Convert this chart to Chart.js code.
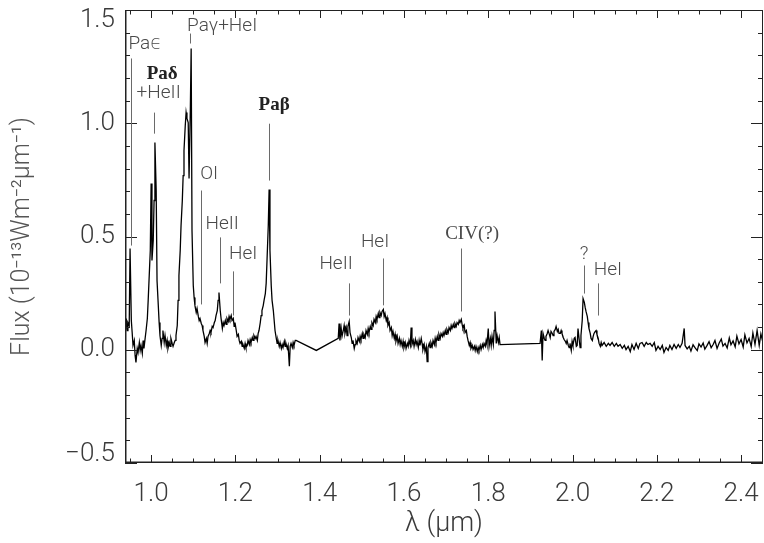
<!DOCTYPE html>
<html>
<head>
<meta charset="utf-8">
<script src="https://cdn.jsdelivr.net/npm/chart.js@4.4.1/dist/chart.umd.min.js"></script>
<style>
  html, body { margin: 0; padding: 0; background: #fff; }
</style>
</head>
<body>
<canvas id="spec" width="764" height="543"></canvas>
<script>
// --- Spectrum: wavelength in micron, flux in 1e-13 W m^-2 um^-1 ---
const wave = [
  0.938,0.941,0.943,0.945,0.948,0.950,0.953,0.955,0.957,0.960,0.962,0.964,0.967,0.969,0.972,0.974,0.976,0.979,0.981,0.983,
  0.986,0.988,0.991,0.993,0.995,0.998,1.000,1.002,1.005,1.007,1.009,1.012,1.014,1.017,1.019,1.021,1.024,1.026,1.028,1.031,
  1.033,1.036,1.038,1.040,1.043,1.045,1.047,1.050,1.052,1.055,1.057,1.059,1.062,1.064,1.066,1.069,1.071,1.074,1.076,1.078,
  1.081,1.083,1.085,1.088,1.090,1.093,1.095,1.097,1.100,1.102,1.104,1.107,1.109,1.112,1.114,1.116,1.119,1.121,1.123,1.126,
  1.128,1.131,1.133,1.135,1.138,1.140,1.142,1.145,1.147,1.150,1.152,1.154,1.157,1.159,1.161,1.164,1.166,1.169,1.171,1.173,
  1.176,1.178,1.180,1.183,1.185,1.187,1.190,1.192,1.195,1.197,1.199,1.202,1.204,1.207,1.209,1.211,1.214,1.216,1.218,1.221,
  1.223,1.225,1.228,1.230,1.233,1.235,1.237,1.240,1.242,1.244,1.247,1.249,1.252,1.254,1.256,1.259,1.261,1.263,1.266,1.268,
  1.271,1.273,1.275,1.278,1.280,1.282,1.285,1.287,1.290,1.292,1.294,1.297,1.299,1.301,1.304,1.306,1.309,1.311,1.313,1.316,
  1.318,1.320,1.323,1.325,1.328,1.330,1.332,1.335,1.337,1.339,1.342,1.344,
  1.392,
  1.444,1.446,1.448,1.451,1.453,1.456,1.458,1.460,1.463,1.465,1.467,1.470,1.472,1.475,1.477,1.479,1.482,1.484,1.486,1.489,
  1.491,1.494,1.496,1.498,1.501,1.503,1.505,1.508,1.510,1.513,1.515,1.517,1.520,1.522,1.524,1.527,1.529,1.532,1.534,1.536,
  1.539,1.541,1.543,1.546,1.548,1.551,1.553,1.555,1.558,1.560,1.562,1.565,1.567,1.570,1.572,1.574,1.577,1.579,1.581,1.584,
  1.586,1.589,1.591,1.593,1.596,1.598,1.600,1.603,1.605,1.608,1.610,1.612,1.615,1.617,1.619,1.622,1.624,1.627,1.629,1.631,
  1.634,1.636,1.638,1.641,1.643,1.645,1.648,1.650,1.653,1.655,1.657,1.660,1.662,1.664,1.667,1.669,1.672,1.674,1.676,1.679,
  1.681,1.683,1.686,1.688,1.691,1.693,1.695,1.698,1.700,1.702,1.705,1.707,1.710,1.712,1.714,1.717,1.719,1.721,1.724,1.726,
  1.729,1.731,1.733,1.736,1.738,1.740,1.743,1.745,1.748,1.750,1.752,1.755,1.757,1.759,1.762,1.764,1.767,1.769,1.771,1.774,
  1.776,1.778,1.781,1.783,1.786,1.788,1.790,1.793,1.795,1.797,1.800,1.802,1.805,1.807,1.809,1.812,1.814,1.816,1.819,1.821,
  1.824,1.826,1.828,
  1.923,1.926,1.928,1.930,1.933,1.935,1.937,1.940,1.942,1.945,1.947,1.949,1.952,1.954,1.956,1.959,1.961,1.964,1.966,1.968,
  1.971,1.973,1.975,1.978,1.980,1.983,1.985,1.987,1.990,1.992,1.994,1.997,1.999,2.001,2.004,2.006,2.009,2.011,2.013,2.016,
  2.018,2.020,2.023,2.025,2.028,2.030,2.032,2.035,2.037,2.039,2.042,2.044,2.047,2.049,2.051,2.054,2.056,2.058,2.061,2.063,
  2.066,2.068,2.070,2.075,2.080,2.085,2.089,2.094,2.099,2.104,2.108,2.113,2.118,2.123,2.127,2.132,2.137,2.141,2.146,2.151,
  2.156,2.160,2.165,2.170,2.175,2.179,2.184,2.189,2.194,2.198,2.203,2.208,2.213,2.217,2.222,2.227,2.231,2.236,2.241,2.246,
  2.251,2.255,2.260,2.265,2.267,2.272,2.277,2.281,2.286,2.291,2.296,2.300,2.305,2.310,2.314,2.319,2.324,2.329,2.334,2.338,
  2.343,2.348,2.353,2.357,2.362,2.367,2.372,2.376,2.381,2.386,2.390,2.395,2.400,2.405,2.409,2.414,2.419,2.424,2.428,2.433,
  2.438,2.443,2.447,2.452
];
const flux = [
  0.063,0.138,0.085,0.120,0.107,0.447,0.129,0.076,0.019,0.041,-0.025,-0.056,0.006,-0.012,0.032,-0.003,0.019,-0.016,0.041,0.006,
  0.054,0.085,0.138,0.218,0.306,0.438,0.734,0.394,0.482,0.659,0.915,0.703,0.306,0.195,0.120,0.063,0.019,0.050,0.085,0.032,
  0.063,0.019,0.041,0.006,0.032,0.015,0.050,0.028,0.015,0.032,0.041,0.063,0.107,0.218,0.328,0.438,0.549,0.659,0.769,0.880,
  0.990,1.047,1.021,1.003,0.756,1.056,1.330,0.527,0.284,0.231,0.195,0.165,0.182,0.147,0.129,0.138,0.116,0.107,0.085,0.059,
  0.032,0.050,0.028,0.059,0.072,0.085,0.076,0.103,0.098,0.120,0.129,0.151,0.173,0.218,0.253,0.173,0.138,0.094,0.120,0.107,
  0.129,0.112,0.138,0.125,0.147,0.134,0.151,0.129,0.138,0.103,0.120,0.085,0.059,0.068,0.041,0.028,0.037,0.015,0.023,0.006,
  0.028,0.010,0.019,0.041,0.023,0.045,0.032,0.054,0.041,0.063,0.050,0.059,0.041,0.072,0.085,0.120,0.151,0.173,0.195,0.218,
  0.248,0.293,0.394,0.549,0.707,0.438,0.284,0.218,0.173,0.129,0.085,0.050,0.028,0.041,0.015,0.032,0.006,0.023,0.010,0.037,
  0.015,0.028,0.006,0.019,-0.073,0.015,0.028,0.010,0.032,0.019,0.041,0.041,
  -0.003,
  0.050,0.116,0.041,0.094,0.059,0.085,0.107,0.072,0.098,0.063,0.103,0.125,0.076,0.054,0.028,0.041,0.006,0.023,0.041,0.028,
  0.054,0.037,0.059,0.045,0.072,0.050,0.068,0.054,0.085,0.068,0.094,0.076,0.103,0.090,0.120,0.107,0.134,0.120,0.147,0.134,
  0.160,0.142,0.165,0.151,0.169,0.178,0.147,0.160,0.129,0.142,0.107,0.120,0.085,0.098,0.063,0.081,0.050,0.068,0.037,0.059,
  0.028,0.050,0.023,0.041,0.015,0.037,0.010,0.032,0.006,0.028,0.015,0.041,0.019,0.098,0.023,0.041,0.015,0.045,0.023,0.037,
  0.010,0.041,0.019,0.050,0.028,0.001,0.023,-0.008,0.015,-0.052,0.010,0.028,0.010,0.032,0.015,0.041,0.023,0.050,0.032,0.059,
  0.041,0.068,0.050,0.072,0.059,0.076,0.063,0.085,0.068,0.090,0.076,0.098,0.085,0.107,0.094,0.112,0.098,0.116,0.103,0.120,
  0.112,0.129,0.120,0.134,0.112,0.094,0.107,0.076,0.085,0.059,0.041,0.019,0.032,0.006,0.019,0.001,0.015,-0.003,0.015,-0.008,
  0.010,-0.003,0.019,0.001,0.023,0.010,0.028,0.015,0.041,0.023,0.094,0.015,0.050,0.019,0.059,0.023,0.085,0.169,0.028,0.063,
  0.032,0.054,0.023,
  0.028,0.085,-0.047,0.072,0.050,0.041,0.059,0.072,0.085,0.068,0.054,0.081,0.072,0.063,0.081,0.090,0.103,0.081,0.090,0.072,
  0.072,0.085,0.072,0.054,0.045,0.037,0.028,0.041,0.019,0.010,0.028,-0.003,0.037,0.019,0.050,0.054,0.015,0.019,0.094,0.041,
  0.010,0.063,0.129,0.226,0.209,0.187,0.169,0.147,0.120,0.094,0.072,0.050,0.041,0.059,0.072,0.081,0.085,0.068,0.050,0.028,
  0.015,0.032,0.019,0.032,0.015,0.028,0.019,0.032,0.015,0.028,0.015,0.023,0.006,0.019,0.001,0.015,-0.008,0.023,0.001,0.028,
  0.006,0.028,0.032,0.015,0.032,0.023,0.028,0.015,0.032,-0.003,0.015,0.001,0.019,-0.012,0.010,-0.003,0.019,0.001,0.023,0.006,
  0.023,0.010,0.028,0.094,0.019,0.004,0.015,-0.006,0.022,0.008,-0.004,0.026,0.012,0.030,0.003,0.018,0.036,0.009,0.024,0.041,
  0.006,0.030,0.047,0.016,0.028,0.008,0.052,0.022,0.039,0.013,0.060,0.026,0.045,0.012,0.066,0.030,0.050,0.014,0.074,0.024,
  0.085,0.019,0.070,0.030
];

// --- Axes ---
const xMin = 0.938, xMax = 2.452;
const yMin = -0.5, yMax = 1.5;
const xMajor = [1.0, 1.2, 1.4, 1.6, 1.8, 2.0, 2.2, 2.4];
const yMajor = [-0.5, 0.0, 0.5, 1.0, 1.5];
const xMinorStep = 0.05, yMinorStep = 0.1;

// --- Line identifications: label, tick wavelength, tick top/bottom flux, label anchor ---
const lineNames  = ['Pa\u03F5', 'Pa\u03B4', '+HeII', 'Pa\u03B3+HeI', 'Pa\u03B2', 'OI', 'HeII', 'HeI', 'HeII', 'HeI', 'CIV(?)', '?', 'HeI'];
const lineWave   = [0.9525, 1.0071, null, 1.0926, 1.2801, 1.1187, 1.1625, 1.1945, 1.4705, 1.5511, 1.7355, 2.0280, 2.0612];
const tickTop    = [1.286, 1.047, null, 1.396, 0.998, 0.703, 0.496, 0.346, 0.293, 0.403, 0.447, 0.372, 0.293];
const tickBottom = [0.460, 0.954, null, 1.352, 0.747, 0.200, 0.293, 0.151, 0.151, 0.196, 0.169, 0.248, 0.151];
const labelWave  = [0.9858, 1.0261, 1.0178, 1.1685, 1.2918, 1.1376, 1.1685, 1.2183, 1.4389, 1.5314, 1.7616, 2.0273, 2.0842];
const labelFlux  = [1.347, 1.217, 1.131, 1.427, 1.082, 0.774, 0.553, 0.421, 0.376, 0.474, 0.513, 0.421, 0.350];
const labelBold  = [false, true, false, false, true, false, false, false, false, false, false, false, false];
const labelSerif = [false, true, false, false, true, false, false, false, false, false, true, false, false];

const sans = 'Roboto, "DejaVu Sans", sans-serif';
const tickFont = { family: sans, size: 26, weight: '300' };
const textColor = '#3a3a3a';

// IDL keeps the end labels inside the box: nudge the first and last y labels inwards
const endLabelNudge = {
  id: 'endLabelNudge',
  beforeDraw(chart) {
    const items = chart.scales.y.getLabelItems(chart.chartArea);
    if (!items.length) return;
    items[0].options.translation[1] -= 9;
    items[items.length - 1].options.translation[1] += 10;
  }
};

// box with inward ticks on all four sides, like the IDL plot
const framePlugin = {
  id: 'frame',
  afterDatasetsDraw(chart) {
    const { ctx, chartArea: a, scales: { x, y } } = chart;
    ctx.save();
    ctx.strokeStyle = '#222';
    ctx.lineWidth = 1;
    ctx.strokeRect(a.left + 0.5, a.top + 0.5, a.right - a.left - 1, a.bottom - a.top - 1);
    ctx.lineWidth = 1.5;
    ctx.beginPath();
    ctx.moveTo(a.left + 0.75, a.top); ctx.lineTo(a.left + 0.75, a.bottom);
    ctx.moveTo(a.left, a.bottom - 0.75); ctx.lineTo(a.right, a.bottom - 0.75);
    ctx.stroke();
    ctx.lineWidth = 1;
    ctx.beginPath();
    for (let i = Math.ceil(xMin / xMinorStep); i * xMinorStep <= xMax; i++) {
      const v = i * xMinorStep;
      const major = xMajor.some(m => Math.abs(m - v) < 1e-6);
      const len = major ? 8 : 4.5;
      const px = Math.round(x.getPixelForValue(v)) + 0.5;
      ctx.moveTo(px, a.bottom); ctx.lineTo(px, a.bottom - len);
      ctx.moveTo(px, a.top); ctx.lineTo(px, a.top + len);
    }
    for (let i = Math.ceil(yMin / yMinorStep); i * yMinorStep <= yMax + 1e-9; i++) {
      const v = i * yMinorStep;
      const major = yMajor.some(m => Math.abs(m - v) < 1e-6);
      const len = major ? 12 : 5;
      const py = Math.round(y.getPixelForValue(v)) + 0.5;
      ctx.moveTo(a.left, py); ctx.lineTo(a.left + len, py);
      ctx.moveTo(a.right, py); ctx.lineTo(a.right - len, py);
    }
    ctx.stroke();
    ctx.restore();
  }
};

const labelPlugin = {
  id: 'lineLabels',
  afterDatasetsDraw(chart) {
    const { ctx, scales: { x, y } } = chart;
    ctx.save();
    ctx.strokeStyle = '#6a6a6a';
    ctx.lineWidth = 1;
    ctx.beginPath();
    lineWave.forEach((w, i) => {
      if (w === null) return;
      const px = Math.round(x.getPixelForValue(w)) + 0.5;
      ctx.moveTo(px, y.getPixelForValue(tickTop[i]));
      ctx.lineTo(px, y.getPixelForValue(tickBottom[i]));
    });
    ctx.stroke();
    ctx.textAlign = 'center';
    ctx.textBaseline = 'middle';
    lineNames.forEach((name, i) => {
      const fam = labelSerif[i] ? '"Liberation Serif", "DejaVu Serif", serif' : sans;
      ctx.font = (labelBold[i] ? 'bold 19px ' : '300 19px ') + fam;
      ctx.fillStyle = labelBold[i] ? '#222' : '#4a4a4a';
      ctx.fillText(name, x.getPixelForValue(labelWave[i]), y.getPixelForValue(labelFlux[i]));
    });
    ctx.restore();
  }
};

new Chart(document.getElementById('spec'), {
  type: 'scatter',
  data: {
    datasets: [{
      data: wave.map((w, i) => ({ x: w, y: flux[i] })),
      showLine: true,
      borderColor: '#000',
      borderWidth: 1.3,
      pointRadius: 0,
      tension: 0
    }]
  },
  options: {
    responsive: false,
    animation: false,
    layout: { padding: { top: 10, right: 1, left: 0, bottom: 0 } },
    plugins: { legend: { display: false }, tooltip: { enabled: false } },
    scales: {
      x: {
        type: 'linear', min: xMin, max: xMax,
        afterBuildTicks: s => { s.ticks = xMajor.map(v => ({ value: v })); },
        afterFit: s => { s.height = 80; s.paddingLeft = 0; s.paddingRight = 0; },
        grid: { display: false, drawTicks: false },
        border: { display: false },
        ticks: { font: tickFont, color: textColor, padding: 16, maxRotation: 0, autoSkip: false,
                 callback: v => v.toFixed(1) },
        title: { display: true, text: '\u03BB (\u03BCm)', color: textColor, font: { family: sans, size: 27, weight: '300' },
                 padding: { top: 0, bottom: 3 } }
      },
      y: {
        min: yMin, max: yMax,
        afterBuildTicks: s => { s.ticks = yMajor.map(v => ({ value: v })); },
        afterFit: s => { s.width = 125; s.paddingTop = 0; s.paddingBottom = 0; },
        grid: { display: false, drawTicks: false },
        border: { display: false },
        ticks: { font: tickFont, color: textColor, padding: 10,
                 callback: v => (v < 0 ? '\u2212' : '') + Math.abs(v).toFixed(1) },
        title: { display: true, text: 'Flux (10\u207B\u00B9\u00B3Wm\u207B\u00B2\u03BCm\u207B\u00B9)', color: '#555',
                 font: { family: sans, size: 25, weight: '300' }, padding: { top: 8, bottom: 0 } }
      }
    }
  },
  plugins: [endLabelNudge, framePlugin, labelPlugin]
});
</script>
</body>
</html>
